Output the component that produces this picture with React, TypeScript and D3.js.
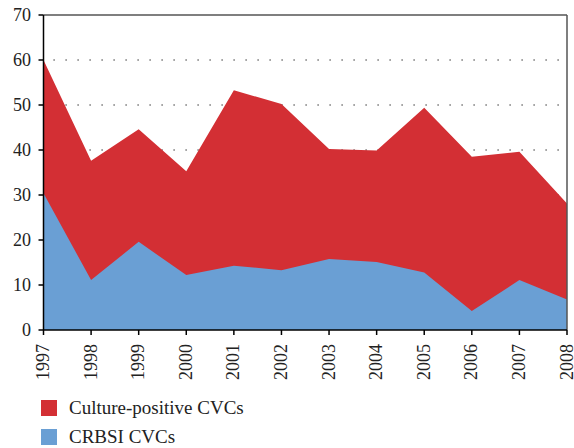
import React from "react";
import * as d3 from "d3";

const years = ["1997","1998","1999","2000","2001","2002","2003","2004","2005","2006","2007","2008"];
const culturePositive = [60, 37.6, 44.6, 35.3, 53.3, 50.2, 40.2, 39.9, 49.4, 38.5, 39.6, 28.1];
const crbsi = [30.4, 11.1, 19.6, 12.2, 14.3, 13.3, 15.8, 15.1, 12.8, 4.2, 11.1, 6.8];
const yTicks = [0, 10, 20, 30, 40, 50, 60, 70];
const legendLabels = ["Culture-positive CVCs", "CRBSI CVCs"];
const colors = ["#d32f34", "#6a9fd4"];

export default function App() {
  const W = 574, H = 448;
  const left = 43.5, right = 567, top = 15, bottom = 330;
  const x = d3.scalePoint<string>().domain(years).range([left, right]);
  const y = d3.scaleLinear().domain([0, 70]).range([bottom, top]);
  const area = (vals: number[]) =>
    d3.area<number>().x((_, i) => x(years[i])!).y0(y(0)).y1((d) => y(d))(vals) || "";
  const font = "'Liberation Serif', 'DejaVu Serif', serif";
  return (
    <svg width={W} height={H} style={{ position: "absolute", left: 0, top: 0 }}>
      <rect width={W} height={H} fill="#fff" />
      {yTicks.filter((t) => t > 0 && t < 70).map((t) => (
        <line key={t} x1={left} x2={right} y1={y(t)} y2={y(t)} stroke="#000" strokeWidth={1.2} strokeDasharray="1.2,10.8" strokeDashoffset={-10} />
      ))}
      <path d={area(culturePositive)} fill={colors[0]} />
      <path d={area(crbsi)} fill={colors[1]} />
      <line x1={left} x2={right} y1={top} y2={top} stroke="#555" strokeWidth={1.5} />
      <line x1={right} x2={right} y1={top} y2={bottom} stroke="#555" strokeWidth={1.5} />
      <line x1={left} x2={left} y1={top} y2={bottom} stroke="#000" strokeWidth={1.5} />
      <line x1={left} x2={right} y1={bottom} y2={bottom} stroke="#000" strokeWidth={1.5} />
      {yTicks.map((t) => (
        <g key={t}>
          <line x1={left - 5} x2={left} y1={y(t)} y2={y(t)} stroke="#000" strokeWidth={1.5} />
          <text x={31} y={y(t) + 6} textAnchor="end" fontFamily={font} fontSize={18} fill="#222">{t}</text>
        </g>
      ))}
      {years.map((yr) => (
        <g key={yr}>
          <line x1={x(yr)} x2={x(yr)} y1={bottom} y2={bottom + 5} stroke="#000" strokeWidth={1.5} />
          <text transform={`translate(${x(yr)! + 5.5},${bottom + 14}) rotate(-90)`} textAnchor="end" fontFamily={font} fontSize={18} fill="#222">{yr}</text>
        </g>
      ))}
      {legendLabels.map((l, i) => (
        <g key={l} transform={`translate(41,${400 + i * 29})`}>
          <rect width={16} height={16} fill={colors[i]} />
          <text x={28} y={14} fontFamily={font} fontSize={19} fill="#222">{l}</text>
        </g>
      ))}
    </svg>
  );
}
